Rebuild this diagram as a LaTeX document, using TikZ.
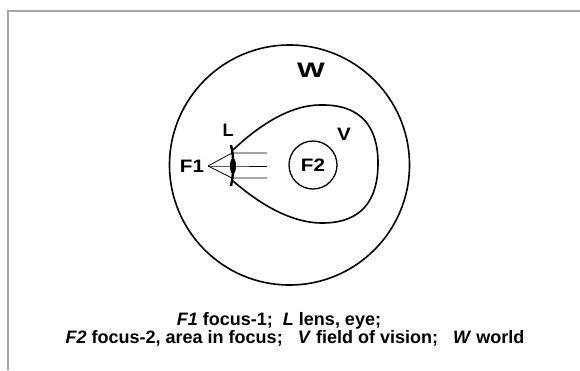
\documentclass[tikz,border=0pt]{standalone}
\usepackage{fontspec}
\setmainfont{Liberation Sans}
\begin{document}
\begin{tikzpicture}[x=1pt,y=-1pt,
  lbl/.style={font=\bfseries\fontsize{18}{20}\selectfont, inner sep=0pt},
  captext/.style={font=\bfseries\fontsize{18}{18}\selectfont, inner sep=0pt, anchor=base},
  curve/.style={line width=1.6pt},
  ray/.style={line width=0.8pt}]
\useasboundingbox (0,0) rectangle (580,370);
% frame
\draw[gray!70, line width=1.5pt] (8,370) -- (8,11) -- (580,11);
% world
\draw[curve] (289.5,165) circle (120);
\node[lbl, font=\bfseries\fontsize{21}{24}\selectfont] (W) at (311,70) {\scalebox{1.4}[1]{W}};
% field of vision
\draw[curve] (233,150) .. controls (258,126) and (290,105) .. (320,105)
  .. controls (362,104) and (378,128) .. (378,163)
  .. controls (378,200) and (362,223) .. (322,223)
  .. controls (288,223) and (255,200) .. (233,181);
\node[lbl] (V) at (344,134) {\scalebox{1.15}[1]{V}};
% focus 2
\node[lbl, draw, circle, line width=1.3pt, minimum size=48pt] (F2) at (313,165) {\scalebox{1.15}[1]{F2}};
% lens
\draw[line width=2.4pt] (231,145) .. controls (234,158) and (234,172) .. (231,186);
\fill (233,166) ellipse (3 and 8);
\coordinate (l1) at (232,153);
\coordinate (l2) at (232,166);
\coordinate (l3) at (232,178);
\node[lbl] (L) at (228,130) {L};
% focus 1
\node[lbl] (F1) at (192,166) {\scalebox{1.15}[1]{F1}};
\coordinate (apex) at (208,166);
\coordinate (r1) at (267,153);
\coordinate (r2) at (267,166);
\coordinate (r3) at (267,178);
\draw[ray] (apex) -- (l1) -- (r1);
\draw[ray] (apex) -- (l2) -- (r2);
\draw[ray] (apex) -- (l3) -- (r3);
% caption
\node[captext] (cap1) at (279,325) {\textit{F1} focus-1;\ \ \textit{L} lens, eye;};
\node[captext] (cap2) at (295,343) {\textit{F2} focus-2, area in focus;\ \ \ \textit{V} field of vision;\ \ \ \textit{W} world};
\end{tikzpicture}
\end{document}
